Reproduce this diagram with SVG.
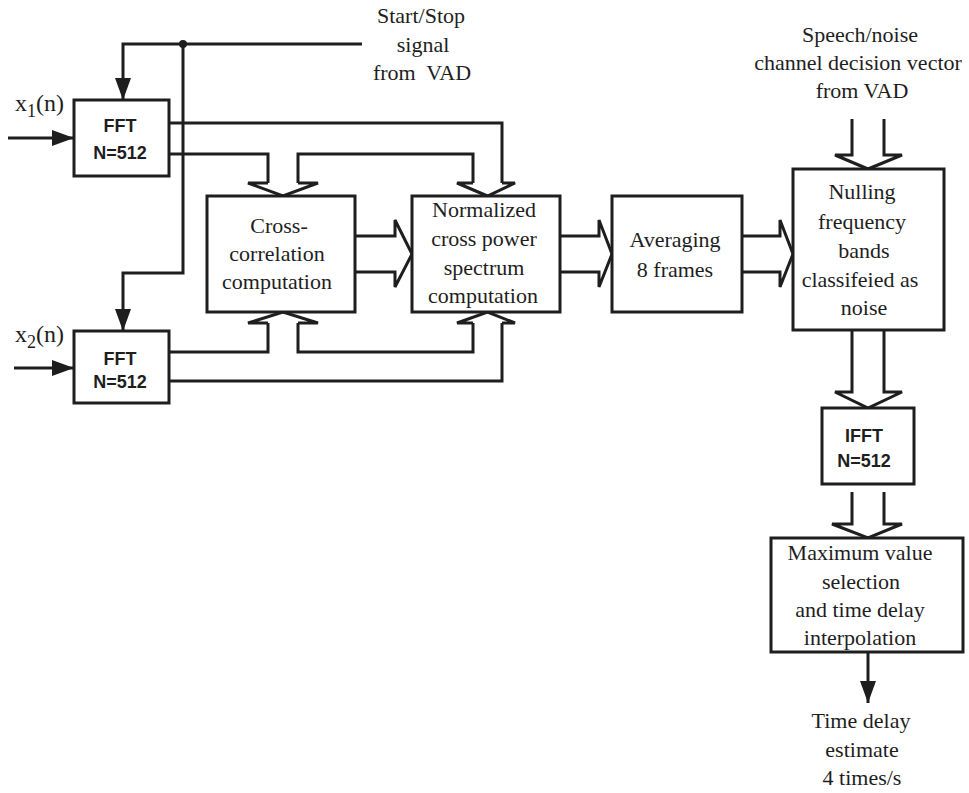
<svg xmlns="http://www.w3.org/2000/svg" width="969" height="793" viewBox="0 0 969 793">
<style>
.box{fill:#fff;stroke:#1e1e1e;stroke-width:3}
.ln{fill:none;stroke:#1e1e1e;stroke-width:3;stroke-linejoin:miter}
.t{font-family:"Liberation Serif","Times New Roman",serif;font-size:22px;fill:#1e1e1e;text-anchor:middle}
.b{font-family:"Liberation Sans",Arial,sans-serif;font-size:18px;font-weight:bold;fill:#1e1e1e;text-anchor:middle}
.x{font-family:"Liberation Serif","Times New Roman",serif;font-size:24px;fill:#1e1e1e}
</style>
<defs>
<marker id="ah" markerUnits="userSpaceOnUse" viewBox="0 0 22 16" markerWidth="22" markerHeight="16" refX="22" refY="8" orient="auto">
<path d="M0,0 L22,8 L0,16 Z" fill="#1e1e1e"/>
</marker>
</defs>

<g id="connectors">
<!-- start/stop signal -->
<path class="ln" d="M362,44 H123 V100" marker-end="url(#ah)"/>
<path class="ln" d="M183,44 V273 H123 V331" marker-end="url(#ah)"/>
<circle cx="183" cy="44" r="4" fill="#1e1e1e"/>
<!-- inputs -->
<path class="ln" d="M8,138 H74" marker-end="url(#ah)"/>
<path class="ln" d="M14,368 H74" marker-end="url(#ah)"/>
<!-- FFT1 outputs -->
<path class="ln" d="M169,123 H502 V183"/>
<path class="ln" d="M169,154 H268 V183"/>
<path class="ln" d="M298,183 V154 H473 V183"/>
<!-- FFT2 outputs -->
<path class="ln" d="M169,352 H268 V323"/>
<path class="ln" d="M298,323 V352 H473 V323"/>
<path class="ln" d="M169,381 H502 V323"/>
<!-- hollow arrow heads: into cross-correlation -->
<path class="ln" d="M268,183 H248 L283,196 L318,183 H298"/>
<path class="ln" d="M268,323 H248 L283,312 L318,323 H298"/>
<!-- into normalized -->
<path class="ln" d="M473,183 H457 L487.5,196 L515,183 H502"/>
<path class="ln" d="M473,323 H457 L487.5,312 L515,323 H502"/>
<!-- CC -> Normalized -->
<path class="ln" d="M355,236 H395 V220 L412,254 L395,287 V272 H355"/>
<!-- Normalized -> Averaging -->
<path class="ln" d="M560,236 H599 V220 L612,254 L599,287 V272 H560"/>
<!-- Averaging -> Nulling -->
<path class="ln" d="M742,236 H780 V220 L793,254 L780,287 V272 H742"/>
<!-- VAD vector -> Nulling -->
<path class="ln" d="M852,119 V155 H835 L868,169 L902,155 H884 V119"/>
<!-- Nulling -> IFFT -->
<path class="ln" d="M852,330 V392 H835 L868,408 L902,392 H884 V330"/>
<!-- IFFT -> Max -->
<path class="ln" d="M852,492 V524 H832 L868,538 L902,524 H884 V492"/>
<!-- output -->
<path class="ln" d="M868,652 V703" marker-end="url(#ah)"/>
</g>

<g id="label-startstop">
<text class="t" x="421" y="23">Start/Stop</text>
<text class="t" x="423" y="52">signal</text>
<text class="t" x="422" y="80" style="white-space:pre">from  VAD</text>
</g>

<g id="label-vad-vector">
<text class="t" x="860" y="42">Speech/noise</text>
<text class="t" x="858" y="70">channel decision vector</text>
<text class="t" x="862" y="98">from VAD</text>
</g>

<g id="label-x1">
<text class="x" x="15" y="111">x<tspan font-size="18" dy="6">1</tspan><tspan dy="-6">(n)</tspan></text>
</g>
<g id="label-x2">
<text class="x" x="15" y="342">x<tspan font-size="18" dy="6">2</tspan><tspan dy="-6">(n)</tspan></text>
</g>

<g id="fft1">
<rect class="box" x="74" y="100" width="95" height="76"/>
<text class="b" x="120" y="132">FFT</text>
<text class="b" x="120" y="159">N=512</text>
</g>

<g id="fft2">
<rect class="box" x="74" y="331" width="95" height="72"/>
<text class="b" x="120" y="365">FFT</text>
<text class="b" x="120" y="388">N=512</text>
</g>

<g id="crosscorr">
<rect class="box" x="207" y="196" width="148" height="116"/>
<text class="t" x="279" y="233">Cross-</text>
<text class="t" x="277" y="261">correlation</text>
<text class="t" x="277" y="289">computation</text>
</g>

<g id="normalized">
<rect class="box" x="412" y="196" width="148" height="116"/>
<text class="t" x="484" y="217">Normalized</text>
<text class="t" x="484" y="246">cross power</text>
<text class="t" x="484" y="275">spectrum</text>
<text class="t" x="483" y="303">computation</text>
</g>

<g id="averaging">
<rect class="box" x="612" y="196" width="130" height="116"/>
<text class="t" x="675" y="247">Averaging</text>
<text class="t" x="675" y="277">8 frames</text>
</g>

<g id="nulling">
<rect class="box" x="793" y="169" width="151" height="161"/>
<text class="t" x="862" y="199">Nulling</text>
<text class="t" x="862" y="229">frequency</text>
<text class="t" x="864" y="258">bands</text>
<text class="t" x="860" y="287">classifeied as</text>
<text class="t" x="864" y="315">noise</text>
</g>

<g id="ifft">
<rect class="box" x="822" y="408" width="92" height="76"/>
<text class="b" x="864" y="442">IFFT</text>
<text class="b" x="864" y="467">N=512</text>
</g>

<g id="maxsel">
<rect class="box" x="771" y="538" width="192" height="114"/>
<text class="t" x="860" y="560">Maximum value</text>
<text class="t" x="861" y="589">selection</text>
<text class="t" x="860" y="617">and time delay</text>
<text class="t" x="860" y="645">interpolation</text>
</g>

<g id="label-output">
<text class="t" x="861" y="728">Time delay</text>
<text class="t" x="862" y="757">estimate</text>
<text class="t" x="862" y="785">4 times/s</text>
</g>
</svg>
